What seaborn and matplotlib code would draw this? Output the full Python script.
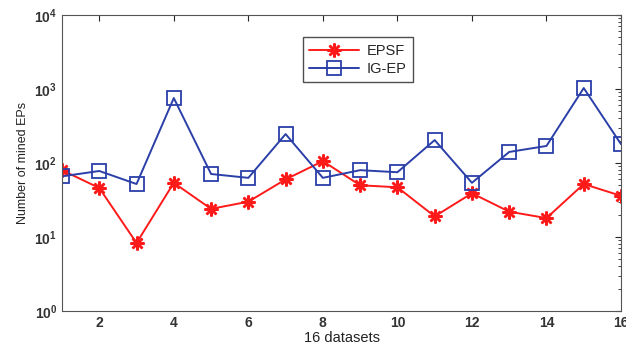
import matplotlib
matplotlib.use("Agg")
import matplotlib.pyplot as plt
import seaborn as sns
import pandas as pd
from matplotlib.ticker import LogLocator, NullFormatter

datasets = list(range(1, 17))
epsf = [80, 46, 8.3, 54, 24, 30, 60, 106, 50, 47, 19, 39, 22, 18, 52, 36]
igep = [66, 78, 52, 755, 71, 63, 246, 63, 80, 75, 204, 54, 141, 170, 1030, 180]
series_names = ["EPSF", "IG-EP"]
x_ticks = [2, 4, 6, 8, 10, 12, 14, 16]

sns.set_style("white")
plt.rcParams["font.family"] = ["Liberation Sans", "DejaVu Sans"]

df = pd.DataFrame({
    "dataset": datasets * 2,
    "count": epsf + igep,
    "method": [series_names[0]] * len(epsf) + [series_names[1]] * len(igep),
})

fig = plt.figure(figsize=(6.26, 3.51), dpi=100)
ax = fig.add_axes([62 / 626, 1 - 311 / 351, (621 - 62) / 626, (311 - 15) / 351])

palette = {"EPSF": "#ff1a1a", "IG-EP": "#2b3fa8"}
# eight-armed asterisk for EPSF, open square for IG-EP
markers = {"EPSF": (8, 2, 0), "IG-EP": "s"}
for name in series_names:
    sub = df[df["method"] == name]
    sns.lineplot(data=sub, x="dataset", y="count", ax=ax, color=palette[name],
                 marker=markers[name], markersize=10 if name == "EPSF" else 9.5,
                 markerfacecolor="none" if name == "IG-EP" else palette[name],
                 markeredgecolor=palette[name],
                 markeredgewidth=1.8 if name == "EPSF" else 1.3,
                 linewidth=1.4, label=name)

ax.set_yscale("log")
ax.set_ylim(1, 1e4)
ax.set_xlim(1, 16)
ax.set_xticks(x_ticks)
ax.yaxis.set_major_locator(LogLocator(base=10, numticks=10))
ax.yaxis.set_minor_locator(LogLocator(base=10, subs=range(2, 10), numticks=20))
ax.yaxis.set_minor_formatter(NullFormatter())
ax.tick_params(which="both", direction="in", top=True, right=True, labelsize=10)
ax.tick_params(which="major", length=4, width=0.8)
ax.tick_params(which="minor", length=2.5, width=0.6)
for lbl in ax.get_xticklabels() + ax.get_yticklabels():
    lbl.set_fontweight("bold")
    lbl.set_color("#333333")

for sp in ax.spines.values():
    sp.set_color("#555555")
    sp.set_linewidth(0.8)

ax.set_xlabel("16 datasets", fontsize=10.5, labelpad=1, color="#222222")
ax.set_ylabel("Number of mined EPs", fontsize=9, labelpad=4, color="#222222")

leg = ax.legend(loc="upper left", bbox_to_anchor=(0.431, 0.924), fontsize=10.5,
                frameon=True, fancybox=False, edgecolor="#222222",
                borderaxespad=0, handlelength=3.4, borderpad=0.45,
                labelspacing=0.25, handletextpad=0.5)
leg.get_frame().set_linewidth(1.0)

fig.savefig("out.png", dpi=100)
